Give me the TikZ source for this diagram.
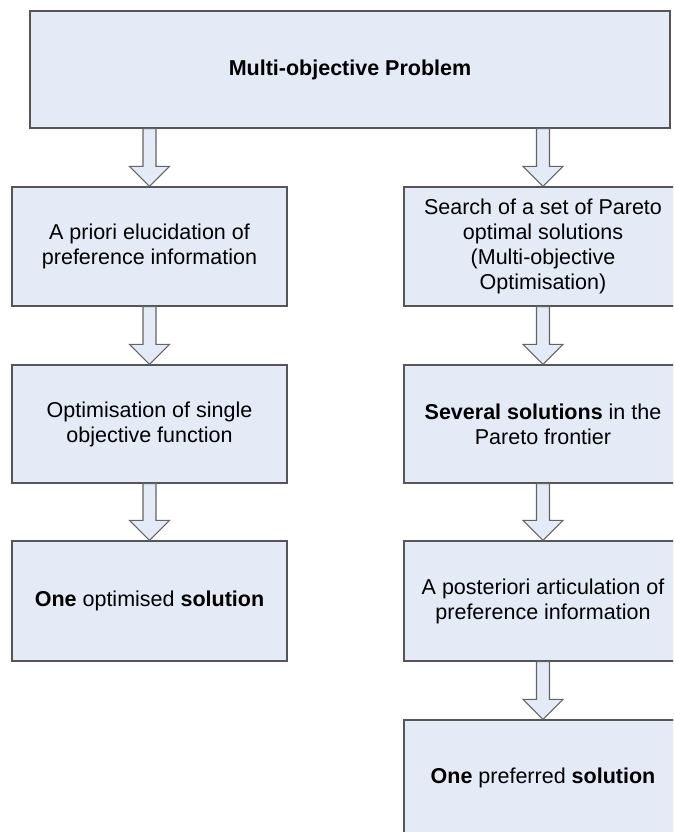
\documentclass[tikz,border=0pt]{standalone}
\usepackage{fontspec}
\setmainfont{Liberation Sans}
\usetikzlibrary{calc}
\definecolor{boxfill}{RGB}{228,234,246}
\definecolor{boxline}{RGB}{85,85,85}
\definecolor{arrline}{RGB}{100,100,100}
\tikzset{
  stepbox/.style={draw=boxline, line width=1.2pt, fill=boxfill, align=center,
    inner sep=0pt, font=\fontsize{21.5}{25}\selectfont, text=black},
  blockarr/.style={draw=arrline, line width=1.1pt, fill=boxfill, line join=miter},
}
\newcommand{\blockarrow}[2]{%
  \path[blockarr]
    ($(#2.north |- #1.south)+(-6.5,0)$) --
    ($(#2.north)+(-6.5,-20)$) --
    ($(#2.north)+(-20,-20)$) --
    (#2.north) --
    ($(#2.north)+(20,-20)$) --
    ($(#2.north)+(6.5,-20)$) --
    ($(#2.north |- #1.south)+(6.5,0)$) -- cycle;}
\begin{document}
\begin{tikzpicture}[x=1pt,y=-1pt]
\useasboundingbox (0,0) rectangle (673,832);
\clip (0,0) rectangle (673,832);
\node[stepbox, minimum width=640pt, minimum height=117pt] (top) at (350,69.5)
  {\bfseries Multi-objective Problem};
% left column
\node[stepbox, minimum width=275pt, minimum height=119pt] (L1) at (149.5,246.5)
  {A priori elucidation of\\preference information};
\node[stepbox, minimum width=275pt, minimum height=118pt] (L2) at (149.5,424)
  {Optimisation of single\\objective function};
\node[stepbox, minimum width=275pt, minimum height=120pt] (L3) at (149.5,601)
  {\textbf{One} optimised \textbf{solution}};
% right column
\node[stepbox, minimum width=278pt, minimum height=119pt] (R1) at (543,246.5)
  {Search of a set of Pareto\\optimal solutions\\(Multi-objective\\Optimisation)};
\node[stepbox, minimum width=278pt, minimum height=118pt] (R2) at (543,424)
  {\textbf{Several solutions} in the\\Pareto frontier};
\node[stepbox, minimum width=278pt, minimum height=120pt] (R3) at (543,601)
  {A posteriori articulation of\\preference information};
\node[stepbox, minimum width=278pt, minimum height=116pt] (R4) at (543,778)
  {\textbf{One} preferred \textbf{solution}};
% arrows
\blockarrow{top}{L1}
\blockarrow{L1}{L2}
\blockarrow{L2}{L3}
\blockarrow{top}{R1}
\blockarrow{R1}{R2}
\blockarrow{R2}{R3}
\blockarrow{R3}{R4}
\end{tikzpicture}
\end{document}
